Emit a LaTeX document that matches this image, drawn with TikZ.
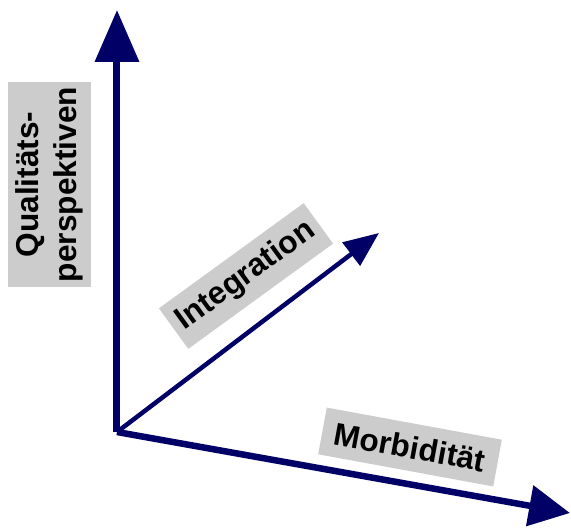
\documentclass[tikz,border=0pt]{standalone}
\usepackage{fontspec}
\setmainfont{Liberation Sans}
\usetikzlibrary{arrows.meta}
\definecolor{navy}{HTML}{000066}
\definecolor{boxgray}{HTML}{CCCCCC}
\begin{document}
\begin{tikzpicture}[
    axis/.style={navy,line join=miter},
    label box/.style={fill=boxgray,font=\fontsize{18}{21.5}\selectfont\bfseries,align=center,inner sep=0pt}
    ]
        \useasboundingbox (-2.34,-1.92) rectangle (9.08,8.64);
        \coordinate (origin) at (0,0);
        \coordinate (qual) at (0,8.44);
        \coordinate (integ) at (5.24,3.98);
        \coordinate (morb) at (9.06,-1.62);
        \draw[axis,line width=0.09cm,-{Triangle[length=0.7cm,width=0.57cm]}] (origin) -- (integ);
        \draw[axis,line width=0.13cm,-{Triangle[length=0.82cm,width=0.8cm]}] (origin) -- (morb);
        \draw[axis,line width=0.14cm,-{Triangle[length=1.04cm,width=0.86cm]}] (origin) -- (qual);
        \node[label box,rotate=90,minimum width=4.1cm,minimum height=1.66cm] (qlabel) at (-1.35,4.95) {Qualitäts-\\perspektiven};
        \node[label box,rotate=36,minimum width=3.58cm,minimum height=1.0cm] (ilabel) at (2.58,3.12) {Integration};
        \node[label box,rotate=-10.4,minimum width=3.56cm,minimum height=0.95cm] (mlabel) at (5.86,-0.30) {Morbidität};
    \end{tikzpicture}
\end{document}
